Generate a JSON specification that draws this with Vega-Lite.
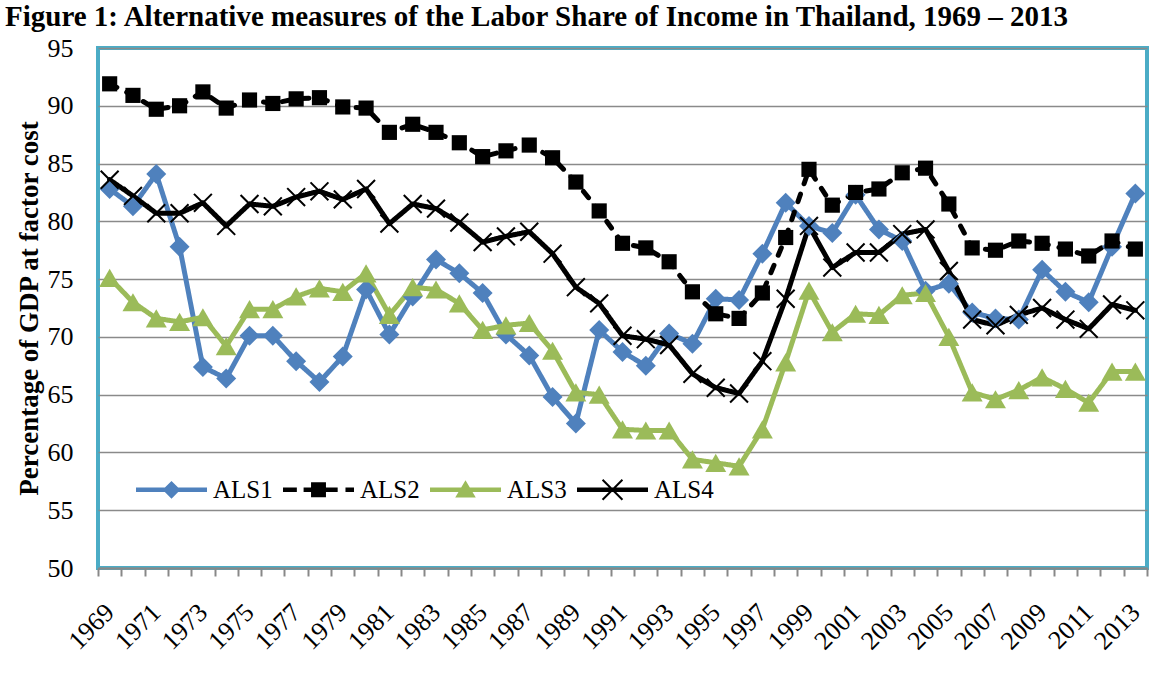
{
  "$schema": "https://vega.github.io/schema/vega-lite/v6.json",
  "width": 1049,
  "height": 520,
  "autosize": {"type": "none"},
  "padding": {"left": 98, "top": 48, "right": 12, "bottom": 109},
  "background": "white",
  "title": {
    "text": "Figure 1: Alternative measures of the Labor Share of Income in Thailand, 1969 – 2013",
    "anchor": "start",
    "font": "Liberation Serif",
    "fontSize": 29,
    "fontWeight": "bold",
    "color": "black",
    "dx": -10,
    "offset": 3
  },
  "config": {
    "view": {"stroke": "#4BACC6", "strokeWidth": 4},
    "axis": {"labelFont": "Liberation Serif", "labelColor": "black", "titleFont": "Liberation Serif", "titleColor": "black"}
  },
  "data": {
    "values": [
      {"year": 1969, "ALS1": 82.8, "ALS2": 91.9, "ALS3": 75.1, "ALS4": 83.6},
      {"year": 1970, "ALS1": 81.3, "ALS2": 90.9, "ALS3": 73.0, "ALS4": 82.2},
      {"year": 1971, "ALS1": 84.1, "ALS2": 89.7, "ALS3": 71.6, "ALS4": 80.7},
      {"year": 1972, "ALS1": 77.8, "ALS2": 90.0, "ALS3": 71.3, "ALS4": 80.7},
      {"year": 1973, "ALS1": 67.4, "ALS2": 91.2, "ALS3": 71.7, "ALS4": 81.6},
      {"year": 1974, "ALS1": 66.4, "ALS2": 89.8, "ALS3": 69.2, "ALS4": 79.6},
      {"year": 1975, "ALS1": 70.1, "ALS2": 90.5, "ALS3": 72.4, "ALS4": 81.5},
      {"year": 1976, "ALS1": 70.1, "ALS2": 90.2, "ALS3": 72.4, "ALS4": 81.3},
      {"year": 1977, "ALS1": 67.9, "ALS2": 90.6, "ALS3": 73.5, "ALS4": 82.1},
      {"year": 1978, "ALS1": 66.1, "ALS2": 90.7, "ALS3": 74.2, "ALS4": 82.6},
      {"year": 1979, "ALS1": 68.3, "ALS2": 89.9, "ALS3": 73.9, "ALS4": 81.9},
      {"year": 1980, "ALS1": 74.1, "ALS2": 89.8, "ALS3": 75.5, "ALS4": 82.8},
      {"year": 1981, "ALS1": 70.2, "ALS2": 87.7, "ALS3": 71.9, "ALS4": 79.8},
      {"year": 1982, "ALS1": 73.5, "ALS2": 88.4, "ALS3": 74.3, "ALS4": 81.5},
      {"year": 1983, "ALS1": 76.7, "ALS2": 87.7, "ALS3": 74.1, "ALS4": 81.1},
      {"year": 1984, "ALS1": 75.5, "ALS2": 86.8, "ALS3": 72.9, "ALS4": 79.9},
      {"year": 1985, "ALS1": 73.8, "ALS2": 85.6, "ALS3": 70.6, "ALS4": 78.2},
      {"year": 1986, "ALS1": 70.2, "ALS2": 86.1, "ALS3": 71.0, "ALS4": 78.7},
      {"year": 1987, "ALS1": 68.4, "ALS2": 86.6, "ALS3": 71.2, "ALS4": 79.1},
      {"year": 1988, "ALS1": 64.8, "ALS2": 85.5, "ALS3": 68.8, "ALS4": 77.2},
      {"year": 1989, "ALS1": 62.5, "ALS2": 83.4, "ALS3": 65.2, "ALS4": 74.3},
      {"year": 1990, "ALS1": 70.6, "ALS2": 80.9, "ALS3": 65.0, "ALS4": 72.9},
      {"year": 1991, "ALS1": 68.7, "ALS2": 78.1, "ALS3": 62.0, "ALS4": 70.1},
      {"year": 1992, "ALS1": 67.5, "ALS2": 77.7, "ALS3": 61.9, "ALS4": 69.8},
      {"year": 1993, "ALS1": 70.3, "ALS2": 76.5, "ALS3": 61.9, "ALS4": 69.3},
      {"year": 1994, "ALS1": 69.4, "ALS2": 73.9, "ALS3": 59.4, "ALS4": 66.8},
      {"year": 1995, "ALS1": 73.3, "ALS2": 72.0, "ALS3": 59.1, "ALS4": 65.6},
      {"year": 1996, "ALS1": 73.2, "ALS2": 71.6, "ALS3": 58.8, "ALS4": 65.1},
      {"year": 1997, "ALS1": 77.2, "ALS2": 73.8, "ALS3": 62.0, "ALS4": 67.9},
      {"year": 1998, "ALS1": 81.6, "ALS2": 78.6, "ALS3": 67.8, "ALS4": 73.3},
      {"year": 1999, "ALS1": 79.6, "ALS2": 84.5, "ALS3": 74.0, "ALS4": 79.6},
      {"year": 2000, "ALS1": 79.0, "ALS2": 81.4, "ALS3": 70.4, "ALS4": 76.0},
      {"year": 2001, "ALS1": 82.3, "ALS2": 82.5, "ALS3": 72.0, "ALS4": 77.3},
      {"year": 2002, "ALS1": 79.3, "ALS2": 82.8, "ALS3": 71.9, "ALS4": 77.3},
      {"year": 2003, "ALS1": 78.3, "ALS2": 84.2, "ALS3": 73.6, "ALS4": 78.9},
      {"year": 2004, "ALS1": 74.0, "ALS2": 84.6, "ALS3": 73.8, "ALS4": 79.3},
      {"year": 2005, "ALS1": 74.6, "ALS2": 81.5, "ALS3": 70.0, "ALS4": 75.7},
      {"year": 2006, "ALS1": 72.1, "ALS2": 77.7, "ALS3": 65.2, "ALS4": 71.5},
      {"year": 2007, "ALS1": 71.6, "ALS2": 77.5, "ALS3": 64.6, "ALS4": 71.0},
      {"year": 2008, "ALS1": 71.5, "ALS2": 78.3, "ALS3": 65.4, "ALS4": 71.9},
      {"year": 2009, "ALS1": 75.8, "ALS2": 78.1, "ALS3": 66.5, "ALS4": 72.5},
      {"year": 2010, "ALS1": 73.9, "ALS2": 77.6, "ALS3": 65.5, "ALS4": 71.5},
      {"year": 2011, "ALS1": 73.0, "ALS2": 77.0, "ALS3": 64.3, "ALS4": 70.7},
      {"year": 2012, "ALS1": 77.8, "ALS2": 78.3, "ALS3": 67.0, "ALS4": 72.8},
      {"year": 2013, "ALS1": 82.4, "ALS2": 77.6, "ALS3": 67.0, "ALS4": 72.3}
    ]
  },
  "transform": [{"fold": ["ALS1", "ALS2", "ALS3", "ALS4"], "as": ["series", "value"]}],
  "encoding": {
    "x": {
      "field": "year",
      "type": "quantitative",
      "scale": {"domain": [1968.5, 2013.5], "nice": false, "zero": false},
      "axis": {
        "title": null,
        "values": [1968.5, 1969.5, 1970.5, 1971.5, 1972.5, 1973.5, 1974.5, 1975.5, 1976.5, 1977.5, 1978.5, 1979.5, 1980.5, 1981.5, 1982.5, 1983.5, 1984.5, 1985.5, 1986.5, 1987.5, 1988.5, 1989.5, 1990.5, 1991.5, 1992.5, 1993.5, 1994.5, 1995.5, 1996.5, 1997.5, 1998.5, 1999.5, 2000.5, 2001.5, 2002.5, 2003.5, 2004.5, 2005.5, 2006.5, 2007.5, 2008.5, 2009.5, 2010.5, 2011.5, 2012.5, 2013.5],
        "labelExpr": "(datum.value + 0.5) % 2 == 1 ? '' + (datum.value + 0.5) : ''",
        "labelOffset": 11.5,
        "labelAngle": -45,
        "labelAlign": "right",
        "labelBaseline": "middle",
        "labelFontSize": 26,
        "labelPadding": 32,
        "labelOverlap": false,
        "labelFlush": false,
        "labelBound": false,
        "tickSize": 8,
        "tickColor": "#888888",
        "tickWidth": 2,
        "domainColor": "#888888",
        "domainWidth": 2,
        "grid": false
      }
    },
    "y": {
      "field": "value",
      "type": "quantitative",
      "scale": {"domain": [50, 95], "nice": false, "zero": false},
      "axis": {
        "title": "Percentage of GDP at factor cost",
        "titleFontSize": 27,
        "titleFontWeight": "bold",
        "titlePadding": 4,
        "values": [50, 55, 60, 65, 70, 75, 80, 85, 90, 95],
        "labelFontSize": 26,
        "labelPadding": 25,
        "ticks": false,
        "domain": false,
        "grid": true,
        "gridColor": "#8A8A8A",
        "gridWidth": 1.5
      }
    }
  },
  "resolve": {"scale": {"shape": "independent", "fill": "independent"}},
  "layer": [
    {
      "mark": {"type": "line", "strokeWidth": 5, "strokeCap": "round", "strokeJoin": "round"},
      "encoding": {
        "color": {
          "field": "series",
          "type": "nominal",
          "scale": {"domain": ["ALS1", "ALS2", "ALS3", "ALS4"], "range": ["#4F81BD", "#000000", "#9BBB59", "#000000"]},
          "legend": null
        },
        "strokeDash": {
          "field": "series",
          "type": "nominal",
          "scale": {"domain": ["ALS1", "ALS2", "ALS3", "ALS4"], "range": [[1, 0], [8, 11], [1, 0], [1, 0]]},
          "legend": null
        }
      }
    },
    {
      "mark": {"type": "point", "filled": true, "opacity": 1, "strokeWidth": 0},
      "encoding": {
        "fill": {
          "field": "series",
          "type": "nominal",
          "scale": {"domain": ["ALS1", "ALS2", "ALS3", "ALS4"], "range": ["#4F81BD", "#000000", "#9BBB59", "#000000"]},
          "legend": null
        },
        "shape": {
          "field": "series",
          "type": "nominal",
          "scale": {"domain": ["ALS1", "ALS2", "ALS3", "ALS4"], "range": ["diamond", "square", "triangle-up", "M-0.92,-1.08L1.08,0.92L0.92,1.08L-1.08,-0.92Z M0.92,-1.08L1.08,-0.92L-0.92,1.08L-1.08,0.92Z"]},
          "legend": null
        },
        "size": {
          "field": "series",
          "type": "nominal",
          "scale": {"type": "ordinal", "domain": ["ALS1", "ALS2", "ALS3", "ALS4"], "range": [400, 230, 440, 320]},
          "legend": null
        }
      }
    },
    {
      "transform": [{"filter": "false"}],
      "mark": {"type": "point", "filled": true, "opacity": 1, "strokeWidth": 0, "size": 5041},
      "encoding": {
        "fill": {
          "field": "series",
          "type": "nominal",
          "scale": {"domain": ["ALS1", "ALS2", "ALS3", "ALS4"], "range": ["#4F81BD", "#000000", "#9BBB59", "#000000"]},
          "legend": {
            "orient": "none", "legendX": 38, "legendY": 406, "direction": "horizontal", "title": null, "padding": 0,
            "symbolSize": 5041, "symbolStrokeWidth": 0, "symbolOpacity": 1,
            "labelFont": "Liberation Serif", "labelFontSize": 25, "labelColor": "black", "labelOffset": 6, "columnPadding": 10
          }
        },
        "shape": {
          "field": "series",
          "type": "nominal",
          "scale": {"domain": ["ALS1", "ALS2", "ALS3", "ALS4"], "range": [
            "M-1,-0.06L1,-0.06L1,0.06L-1,0.06Z M0,-0.25L0.25,0L0,0.25L-0.25,0Z",
            "M-1,-0.06L-0.61,-0.06L-0.61,0.06L-1,0.06Z M-0.42,-0.06L0.54,-0.06L0.54,0.06L-0.42,0.06Z M-0.21,-0.21L0.21,-0.21L0.21,0.21L-0.21,0.21Z M0.76,-0.06L1,-0.06L1,0.06L0.76,0.06Z",
            "M-1,-0.06L1,-0.06L1,0.06L-1,0.06Z M0,-0.27L0.29,0.22L-0.29,0.22Z",
            "M-1,-0.06L1,-0.06L1,0.06L-1,0.06Z M-0.26,-0.3L0.3,0.26L0.26,0.3L-0.3,-0.26Z M0.26,-0.3L0.3,-0.26L-0.26,0.3L-0.3,0.26Z"
          ]},
          "legend": {
            "orient": "none", "legendX": 38, "legendY": 406, "direction": "horizontal", "title": null, "padding": 0,
            "symbolSize": 5041, "symbolStrokeWidth": 0, "symbolOpacity": 1,
            "labelFont": "Liberation Serif", "labelFontSize": 25, "labelColor": "black", "labelOffset": 6, "columnPadding": 10
          }
        }
      }
    }
  ]
}
